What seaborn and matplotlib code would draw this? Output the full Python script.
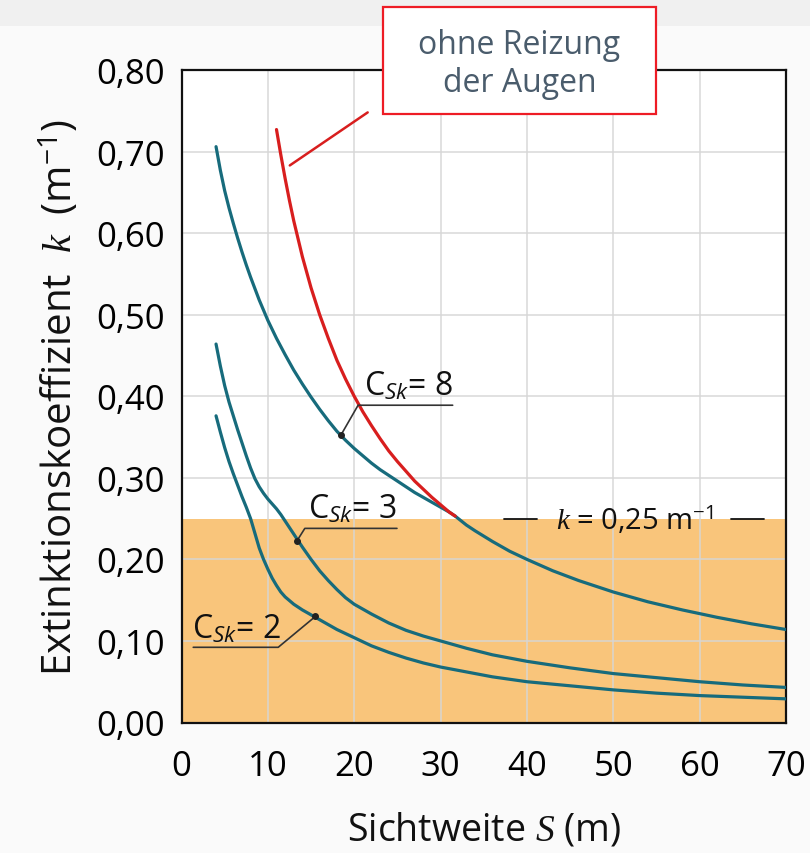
import numpy as np
import pandas as pd
import seaborn as sns
import matplotlib
matplotlib.use("Agg")
import matplotlib.pyplot as plt
from matplotlib.patches import Rectangle
from matplotlib.ticker import MultipleLocator, FixedLocator

# ---------------- data ----------------
c8_S = [4.0, 4.5, 5.0, 5.5, 6.0, 6.5, 7.0, 7.5, 8.0, 9.0, 10.0, 11.0, 12.0, 13.0, 14.0, 15.0, 16.0, 17.0,
        18.0, 19.0, 20.0, 21.0, 22.0, 23.0, 24.0, 25.0, 26.0, 27.0, 28.0, 29.0, 30.0, 31.0, 31.7,
        33.0, 34.0, 36.0, 38.0, 40.0, 43.0, 46.0, 50.0, 54.0, 58.0, 62.0, 66.0, 70.0]
c8_k = [0.706, 0.677, 0.652, 0.631, 0.612, 0.594, 0.577, 0.561, 0.546, 0.518, 0.493, 0.471, 0.451, 0.432, 0.415, 0.399, 0.384, 0.370,
        0.357, 0.346, 0.336, 0.327, 0.318, 0.310, 0.303, 0.296, 0.289, 0.282, 0.276, 0.270, 0.264, 0.258, 0.253,
        0.242, 0.235, 0.222, 0.210, 0.200, 0.186, 0.174, 0.160, 0.148, 0.138, 0.129, 0.121, 0.114]

red_S = [11.0, 11.5, 12.0, 12.5, 13.0, 14.0, 15.0, 16.0, 17.0, 18.0, 19.0, 20.0, 21.0, 22.0, 23.0, 24.0,
         25.0, 26.0, 27.0, 28.0, 29.0, 30.0, 31.0, 31.7]
red_k = [0.727, 0.696, 0.667, 0.640, 0.615, 0.571, 0.533, 0.500, 0.471, 0.444, 0.421, 0.400, 0.381, 0.364, 0.348, 0.333,
         0.320, 0.308, 0.296, 0.286, 0.276, 0.267, 0.258, 0.253]

c3_S = [4.0, 4.5, 5.0, 5.5, 6.0, 6.5, 7.0, 7.5, 8.0, 8.5, 9.0, 9.5, 10.0, 10.5, 11.0, 11.5, 12.0, 12.5, 13.0, 13.5,
        14.0, 15.0, 16.0, 17.0, 18.0, 19.0, 20.0, 22.0, 24.0, 26.0, 28.0, 30.0, 33.0, 36.0, 40.0, 45.0, 50.0,
        55.0, 60.0, 65.0, 70.0]
c3_k = [0.464, 0.437, 0.413, 0.393, 0.376, 0.359, 0.343, 0.327, 0.312, 0.299, 0.289, 0.281, 0.274, 0.268, 0.262, 0.255, 0.247, 0.239, 0.231, 0.223,
        0.215, 0.200, 0.186, 0.174, 0.163, 0.153, 0.145, 0.133, 0.122, 0.113, 0.106, 0.100, 0.091, 0.083, 0.075, 0.067, 0.060,
        0.055, 0.050, 0.046, 0.043]

c2_S = [4.0, 4.5, 5.0, 5.5, 6.0, 6.5, 7.0, 7.5, 8.0, 8.5, 9.0, 9.5, 10.0, 10.5, 11.0, 11.5, 12.0, 13.0, 14.0,
        15.0, 16.0, 17.0, 18.0, 19.0, 20.0, 22.0, 24.0, 26.0, 28.0, 30.0, 33.0, 36.0, 40.0, 45.0, 50.0, 55.0,
        60.0, 65.0, 70.0]
c2_k = [0.376, 0.356, 0.337, 0.320, 0.305, 0.291, 0.277, 0.264, 0.250, 0.232, 0.214, 0.200, 0.188, 0.177, 0.168, 0.160, 0.154, 0.145, 0.138,
        0.132, 0.126, 0.120, 0.114, 0.109, 0.104, 0.094, 0.086, 0.079, 0.073, 0.068, 0.062, 0.056, 0.050, 0.045, 0.040, 0.036,
        0.033, 0.031, 0.029]

k_limit = 0.25
x_ticks = [0, 10, 20, 30, 40, 50, 60, 70]
y_ticks = [0.0, 0.1, 0.2, 0.3, 0.4, 0.5, 0.6, 0.7, 0.8]
y_tick_labels = ["0,00", "0,10", "0,20", "0,30", "0,40", "0,50", "0,60", "0,70", "0,80"]

# ---------------- style ----------------
sns.set_theme(style="white")
plt.rcParams["font.family"] = ["Open Sans", "DejaVu Sans"]
plt.rcParams["mathtext.fontset"] = "custom"
plt.rcParams["mathtext.rm"] = "Open Sans"
plt.rcParams["mathtext.it"] = "Liberation Serif:italic"
plt.rcParams["mathtext.sf"] = "Open Sans:italic"

TEAL = "#176b7c"
RED = "#d81e1e"
ORANGE = "#f9c57b"

fig = plt.figure(figsize=(8.1, 8.54), dpi=100, facecolor="#fafafa")
fig.patches.append(Rectangle((0, 1 - 27 / 854), 1, 27 / 854, transform=fig.transFigure,
                             facecolor="#f0f0f0", edgecolor="none", zorder=0))
ax = fig.add_axes([181.5 / 810, 1 - 723.5 / 854, (786 - 181.5) / 810, (723.5 - 71) / 854])
ax.set_facecolor("white")

ax.axhspan(0, k_limit, color=ORANGE, zorder=0, lw=0)

frames = {
    "C8": (c8_S, c8_k, TEAL),
    "C3": (c3_S, c3_k, TEAL),
    "C2": (c2_S, c2_k, TEAL),
    "red": (red_S, red_k, RED),
}
for name, (s, k, col) in frames.items():
    df = pd.DataFrame({"S": s, "k": k})
    sns.lineplot(data=df, x="S", y="k", ax=ax, color=col, lw=2.3, sort=False,
                 zorder=4 if name == "red" else 3)

ax.set_xlim(0, 70)
ax.set_ylim(0, 0.8)
ax.xaxis.set_major_locator(FixedLocator(x_ticks))
ax.yaxis.set_major_locator(FixedLocator(y_ticks))
ax.set_yticklabels(y_tick_labels)
ax.xaxis.set_minor_locator(MultipleLocator(5))
ax.yaxis.set_minor_locator(MultipleLocator(0.02))
ax.set_axisbelow(True)
ax.grid(True, which="major", color="#d6d6d6", lw=1.3, alpha=0.8)
ax.tick_params(axis="both", which="major", length=0, labelsize=25, colors="black")
ax.tick_params(axis="x", which="major", pad=19)
ax.tick_params(axis="y", which="major", pad=12)
ax.tick_params(axis="both", which="minor", direction="in", length=4, width=0.8, color="#bbbbbb")
for sp in ax.spines.values():
    sp.set_color("#111111")
    sp.set_linewidth(1.6)

ax.set_xlabel(r"Sichtweite $S$ (m)", fontsize=27, labelpad=20, color="#111111")
ax.set_ylabel(r"Extinktionskoeffizient  $k$  (m$^{-1}$)", fontsize=29, labelpad=10, color="#111111")

# ---- annotations ----
lead = "#333333"
# C=8
ax.plot([18.44, 20.45, 31.4], [0.352, 0.389, 0.389], color=lead, lw=1.2, zorder=5)
ax.plot([18.44], [0.352], "o", color="#222222", ms=4, zorder=6)
ax.text(21.1, 0.392, r"C$_{\mathsf{Sk}}$= 8", fontsize=23, color="#111111", va="bottom", ha="left", zorder=6)
# C=3
ax.plot([13.39, 14.28, 24.95], [0.223, 0.238, 0.238], color=lead, lw=1.2, zorder=5)
ax.plot([13.39], [0.223], "o", color="#222222", ms=4, zorder=6)
ax.text(14.7, 0.241, r"C$_{\mathsf{Sk}}$= 3", fontsize=23, color="#111111", va="bottom", ha="left", zorder=6)
# C=2
ax.plot([15.5, 11.2, 1.36], [0.130, 0.0922, 0.0922], color=lead, lw=1.2, zorder=5)
ax.plot([15.5], [0.130], "o", color="#222222", ms=4, zorder=6)
ax.text(1.2, 0.095, r"C$_{\mathsf{Sk}}$= 2", fontsize=23, color="#111111", va="bottom", ha="left", zorder=6)

# k = 0,25 line label
ax.plot([37.4, 41.2], [0.25, 0.25], color="#111111", lw=1.3, zorder=5)
ax.plot([63.6, 67.5], [0.25, 0.25], color="#111111", lw=1.3, zorder=5)
ax.text(52.5, 0.249, r"$k$ = 0,25 m$^{-1}$", fontsize=21, color="#111111", ha="center", va="center", zorder=6)

# red leader line to box
ax.plot([12.54, 21.56], [0.683, 0.748], color=RED, lw=1.8, clip_on=False, zorder=6)

# box
fig.patches.append(Rectangle((383 / 810, 1 - 115 / 854), 273 / 810, 107 / 854, transform=fig.transFigure,
                             facecolor="white", edgecolor="#ee1c25", lw=1.6, zorder=10))
fig.text(519.5 / 810, 1 - 65 / 854, "ohne Reizung\nder Augen", fontsize=23, color="#4a5c6c",
         ha="center", va="center", linespacing=1.2, zorder=11)

fig.savefig("out.png", dpi=100, facecolor=fig.get_facecolor())
